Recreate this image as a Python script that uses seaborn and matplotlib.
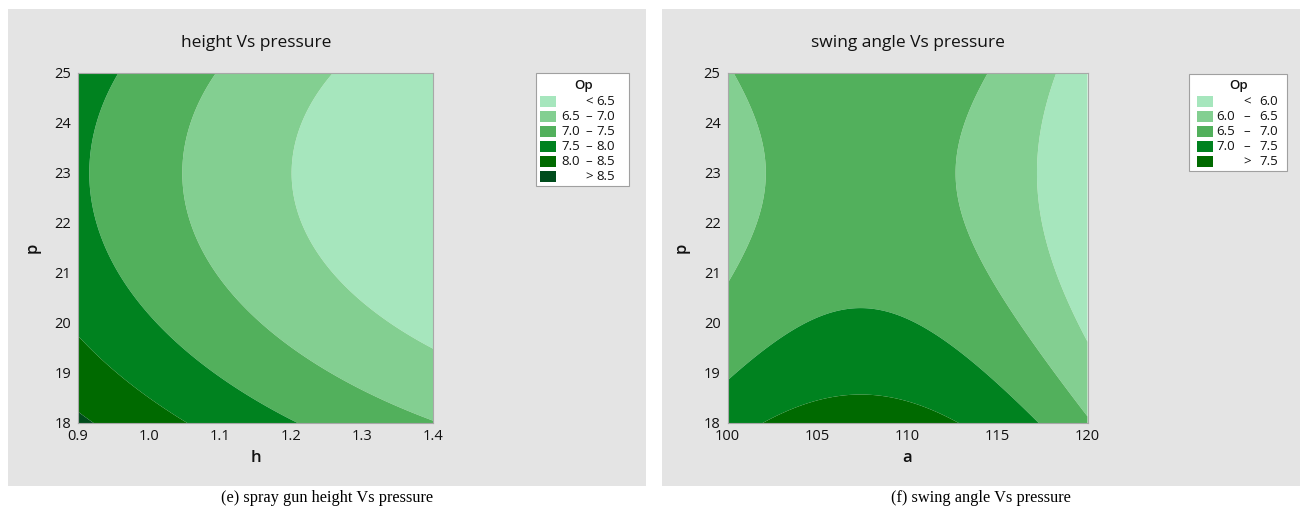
import numpy as np
import matplotlib
matplotlib.use("Agg")
import matplotlib.pyplot as plt
from matplotlib.patches import Rectangle
import seaborn as sns

# ---- fitted response-surface terms (centred quadratic models for Op) ----
# panel (e): Op = b0 + b_h*(h-h0) + b_hh*(h-h0)^2 + b_pp*(p-p0)^2
height_terms = {"b0": 6.989, "h0": 1.05, "b_h": -3.543, "b_hh": 2.0,
                "p0": 23.0, "b_pp": 0.041}
# panel (f): Op = c0 + c_aa*(a-a0)^2 + c_pp*(p-p0)^2
angle_terms = {"c0": 6.704, "a0": 107.4, "c_aa": -0.00734,
               "p0": 23.0, "c_pp": 0.04055}

h_range = [0.9, 1.4]
a_range = [100, 120]
p_range = [18, 25]

h_ticks = [0.9, 1.0, 1.1, 1.2, 1.3, 1.4]
a_ticks = [100, 105, 110, 115, 120]
p_ticks = [18, 19, 20, 21, 22, 23, 24, 25]

height_levels = [6.5, 7.0, 7.5, 8.0, 8.5]
angle_levels = [6.0, 6.5, 7.0, 7.5]

greens = ["#a6e6bd", "#83cf91", "#52b05c", "#00821f", "#006a00", "#004c1c"]

titles = ["height Vs pressure", "swing angle Vs pressure"]
captions = ["(e) spray gun height Vs pressure", "(f) swing angle Vs pressure"]

sns.set_style("white")
plt.rcParams["font.family"] = ["Open Sans", "DejaVu Sans"]

W, H = 1300, 515
fig = plt.figure(figsize=(W / 100, H / 100), dpi=100)
fig.patch.set_facecolor("white")


def fx(px):
    return px / W


def fy(py):
    return 1 - py / H


# grey panel backgrounds, kept behind the axes
for x0, x1 in [(8, 646), (662, 1300)]:
    fig.patches.append(Rectangle((fx(x0), fy(486)), fx(x1 - x0), (486 - 9) / H,
                                 transform=fig.transFigure, facecolor="#e4e4e4",
                                 edgecolor="none", zorder=-5))


def surface_height(h, p):
    t = height_terms
    return (t["b0"] + t["b_h"] * (h - t["h0"]) + t["b_hh"] * (h - t["h0"]) ** 2
            + t["b_pp"] * (p - t["p0"]) ** 2)


def surface_angle(a, p):
    t = angle_terms
    return t["c0"] + t["c_aa"] * (a - t["a0"]) ** 2 + t["c_pp"] * (p - t["p0"]) ** 2


def draw_panel(rect, xr, xticks, xlabel, func, levels, xfmt):
    ax = fig.add_axes(rect)
    ax.set_zorder(1)
    xs = np.linspace(xr[0], xr[1], 400)
    ps = np.linspace(p_range[0], p_range[1], 400)
    X, P = np.meshgrid(xs, ps)
    Z = func(X, P)
    bounds = [-1e9] + levels + [1e9]
    ax.contourf(X, P, Z, levels=bounds, colors=greens[:len(levels) + 1],
                antialiased=True)
    ax.set_xlim(xr)
    ax.set_ylim(p_range)
    ax.set_xticks(xticks)
    ax.set_xticklabels([xfmt(v) for v in xticks])
    ax.set_yticks(p_ticks)
    ax.tick_params(axis="both", direction="out", length=4, width=0.8,
                   color="#8c8c8c", labelsize=10.5, labelcolor="#111111", pad=1)
    ax.tick_params(axis="x", pad=0)
    for s in ax.spines.values():
        s.set_color("#a8a8a8")
        s.set_linewidth(0.8)
    ax.set_xlabel(xlabel, fontsize=12, fontweight="semibold", labelpad=5,
                  color="#111111")
    ax.set_ylabel("p", fontsize=12, fontweight="semibold", labelpad=10,
                  color="#111111")
    return ax


ax1 = draw_panel([fx(78), fy(423), fx(355), 350 / H], h_range, h_ticks, "h",
                 surface_height, height_levels, lambda v: f"{v:.1f}")
ax2 = draw_panel([fx(727.5), fy(423), fx(360), 350 / H], a_range, a_ticks, "a",
                 surface_angle, angle_levels, lambda v: f"{v:d}")

# panel titles
fig.text(fx(256), fy(43), titles[0], ha="center", va="center", fontsize=12.5,
         color="#111111")
fig.text(fx(908), fy(43), titles[1], ha="center", va="center", fontsize=12.5,
         color="#111111")


def draw_legend(box, levels, patch_x, low_r, sym_c, high_r):
    x0, y0, x1, y1 = box
    fig.patches.append(Rectangle((fx(x0), fy(y1)), fx(x1 - x0), (y1 - y0) / H,
                                 transform=fig.transFigure, facecolor="white",
                                 edgecolor="#a0a0a0", linewidth=0.8, zorder=2))
    fig.text(fx((x0 + x1) / 2 + 1), fy(85), "Op", ha="center", va="center",
             fontsize=9.5, fontweight="semibold", color="#111111", zorder=3)
    labels = [("", "<", f"{levels[0]:.1f}")]
    for lo, hi in zip(levels[:-1], levels[1:]):
        labels.append((f"{lo:.1f}", "\u2013", f"{hi:.1f}"))
    labels.append(("", ">", f"{levels[-1]:.1f}"))
    for i, (lo, sym, hi) in enumerate(labels):
        yc = 101.7 + i * 15.0
        fig.patches.append(Rectangle((fx(patch_x), fy(yc + 5.5)), fx(16), 11 / H,
                                     transform=fig.transFigure,
                                     facecolor=greens[i], edgecolor="none",
                                     zorder=3))
        kw = dict(va="center", fontsize=9.5, color="#111111", zorder=3)
        if lo:
            fig.text(fx(low_r), fy(yc), lo, ha="right", **kw)
        fig.text(fx(sym_c), fy(yc), sym, ha="center", **kw)
        fig.text(fx(high_r), fy(yc), hi, ha="right", **kw)


draw_legend((536, 73, 629, 186), height_levels, 540, 580, 589, 615)
draw_legend((1189, 74, 1287, 171), angle_levels, 1197, 1235, 1247, 1278)

# captions under each panel
for xc, text in zip([327, 981], captions):
    fig.text(fx(xc), fy(498), text, ha="center", va="center", fontsize=11.8,
             family=["Liberation Serif", "DejaVu Serif"], color="black")

fig.savefig("out.png", dpi=100, facecolor="white")
